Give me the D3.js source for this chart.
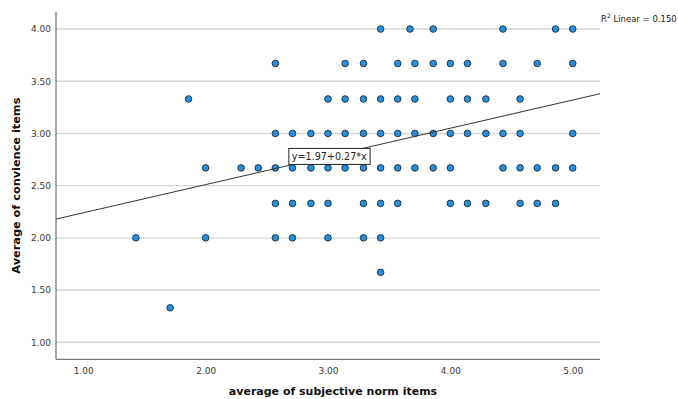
<!DOCTYPE html>
<html>
<head>
<meta charset="utf-8">
<script src="https://cdn.jsdelivr.net/npm/d3@7"></script>
<style>
  html, body { margin: 0; padding: 0; background: #fff; }
  svg { display: block; }
</style>
</head>
<body>
<svg id="chart" width="678" height="399"></svg>
<script>
// Average of subjective norm items (x) vs average of convience items (y)
const normScores = [
  // conv = 4.00
  3.43, 3.67, 3.86, 4.43, 4.86, 5.00,
  // conv = 3.67
  2.57, 3.14, 3.29, 3.57, 3.71, 3.86, 4.00, 4.14, 4.43, 4.71, 5.00,
  // conv = 3.33
  1.86, 3.00, 3.14, 3.29, 3.43, 3.57, 3.71, 4.00, 4.14, 4.29, 4.57,
  // conv = 3.00
  2.57, 2.71, 2.86, 3.00, 3.14, 3.29, 3.43, 3.57, 3.71, 3.86, 4.00, 4.14, 4.29, 4.43, 4.57, 5.00,
  // conv = 2.67
  2.00, 2.29, 2.43, 2.57, 2.71, 2.86, 3.00, 3.14, 3.29, 3.43, 3.57, 3.71, 3.86, 4.00, 4.43, 4.57, 4.71, 4.86, 5.00,
  // conv = 2.33
  2.57, 2.71, 2.86, 3.00, 3.29, 3.43, 3.57, 4.00, 4.14, 4.29, 4.57, 4.71, 4.86,
  // conv = 2.00
  1.43, 2.00, 2.57, 2.71, 3.00, 3.29, 3.43,
  // conv = 1.67
  3.43,
  // conv = 1.33
  1.71
];
const convScores = [
  4.00, 4.00, 4.00, 4.00, 4.00, 4.00,
  3.67, 3.67, 3.67, 3.67, 3.67, 3.67, 3.67, 3.67, 3.67, 3.67, 3.67,
  3.33, 3.33, 3.33, 3.33, 3.33, 3.33, 3.33, 3.33, 3.33, 3.33, 3.33,
  3.00, 3.00, 3.00, 3.00, 3.00, 3.00, 3.00, 3.00, 3.00, 3.00, 3.00, 3.00, 3.00, 3.00, 3.00, 3.00,
  2.67, 2.67, 2.67, 2.67, 2.67, 2.67, 2.67, 2.67, 2.67, 2.67, 2.67, 2.67, 2.67, 2.67, 2.67, 2.67, 2.67, 2.67, 2.67,
  2.33, 2.33, 2.33, 2.33, 2.33, 2.33, 2.33, 2.33, 2.33, 2.33, 2.33, 2.33, 2.33,
  2.00, 2.00, 2.00, 2.00, 2.00, 2.00, 2.00,
  1.67,
  1.33
];
const xTickValues = [1, 2, 3, 4, 5];
const yTickValues = [1.0, 1.5, 2.0, 2.5, 3.0, 3.5, 4.0];
const fitIntercept = 1.97;
const fitSlope = 0.27;
const fitR2 = 0.150;

const xTitle = "average of subjective norm items";
const yTitle = "Average of convience items";

// Layout
const plot = { left: 56, right: 600, top: 12, bottom: 359.3 };
const svg = d3.select("#chart");

const x = d3.scaleLinear().domain([0.777, 5.223]).range([plot.left, plot.right]);
const y = d3.scaleLinear().domain([0.837, 4.163]).range([plot.bottom, plot.top]);

const tickFont = "DejaVu Sans, sans-serif";

// Horizontal grid lines
svg.append("g")
  .selectAll("line")
  .data(yTickValues)
  .join("line")
  .attr("x1", plot.left).attr("x2", plot.right)
  .attr("y1", d => y(d)).attr("y2", d => y(d))
  .attr("stroke", "#d6d6d6")
  .attr("stroke-width", 1.4);

// Axes
const xAxis = d3.axisBottom(x).tickValues(xTickValues).tickSize(0).tickPadding(8)
  .tickFormat(d3.format(".2f"));
const yAxis = d3.axisLeft(y).tickValues(yTickValues).tickSize(0).tickPadding(5)
  .tickFormat(d3.format(".2f"));

const gx = svg.append("g").attr("transform", `translate(0,${plot.bottom})`).call(xAxis);
const gy = svg.append("g").attr("transform", `translate(${plot.left},0)`).call(yAxis);

[gx, gy].forEach(g => {
  g.select(".domain").remove();
  g.selectAll("text")
    .attr("font-family", tickFont)
    .attr("font-size", 9)
    .attr("fill", "#3a3a3a");
});

// Axis lines
svg.append("line")
  .attr("x1", plot.left).attr("x2", plot.left)
  .attr("y1", plot.top).attr("y2", plot.bottom)
  .attr("stroke", "#555").attr("stroke-width", 1);
svg.append("line")
  .attr("x1", plot.left).attr("x2", plot.right)
  .attr("y1", plot.bottom).attr("y2", plot.bottom)
  .attr("stroke", "#555").attr("stroke-width", 1);

// Points
svg.append("g")
  .selectAll("circle")
  .data(d3.range(normScores.length))
  .join("circle")
  .attr("cx", i => x(normScores[i]))
  .attr("cy", i => y(convScores[i]))
  .attr("r", 3.3)
  .attr("fill", "#2590de")
  .attr("stroke", "#1b2a38")
  .attr("stroke-width", 0.9);

// Linear fit line
const [xd0, xd1] = x.domain();
svg.append("line")
  .attr("x1", x(xd0)).attr("y1", y(fitIntercept + fitSlope * xd0))
  .attr("x2", x(xd1)).attr("y2", y(fitIntercept + fitSlope * xd1))
  .attr("stroke", "#333")
  .attr("stroke-width", 1);

// Fit equation label
const eqText = `y=${fitIntercept.toFixed(2)}+${fitSlope.toFixed(2)}*x`;
const eqG = svg.append("g").attr("transform", `translate(${x(2.68)},${y(2.78)})`);
const eqRect = eqG.append("rect");
const eqLabel = eqG.append("text")
  .attr("x", 3).attr("y", 0).attr("dy", "0.35em")
  .attr("font-family", tickFont)
  .attr("font-size", 9.6)
  .attr("fill", "#222")
  .text(eqText);
const bb = eqLabel.node().getBBox();
eqRect.attr("x", 0).attr("y", -8)
  .attr("width", bb.width + 6).attr("height", 16)
  .attr("fill", "#fff").attr("stroke", "#222").attr("stroke-width", 1);

// R² annotation
const r2 = svg.append("text")
  .attr("x", 601).attr("y", 22)
  .attr("font-family", tickFont)
  .attr("font-size", 8.5)
  .attr("fill", "#222");
r2.append("tspan").text("R");
r2.append("tspan").attr("dy", -4).attr("font-size", 6).text("2");
r2.append("tspan").attr("dy", 4).text(` Linear = ${fitR2.toFixed(3)}`);

// Axis titles
svg.append("text")
  .attr("x", 333).attr("y", 395)
  .attr("text-anchor", "middle")
  .attr("font-family", "DejaVu Sans, sans-serif")
  .attr("font-weight", "bold")
  .attr("font-size", 11)
  .attr("fill", "#111")
  .text(xTitle);

svg.append("text")
  .attr("transform", `translate(20,${(plot.top + plot.bottom) / 2}) rotate(-90)`)
  .attr("text-anchor", "middle")
  .attr("font-family", "DejaVu Sans, sans-serif")
  .attr("font-weight", "bold")
  .attr("font-size", 11.3)
  .attr("fill", "#111")
  .text(yTitle);
</script>
</body>
</html>
